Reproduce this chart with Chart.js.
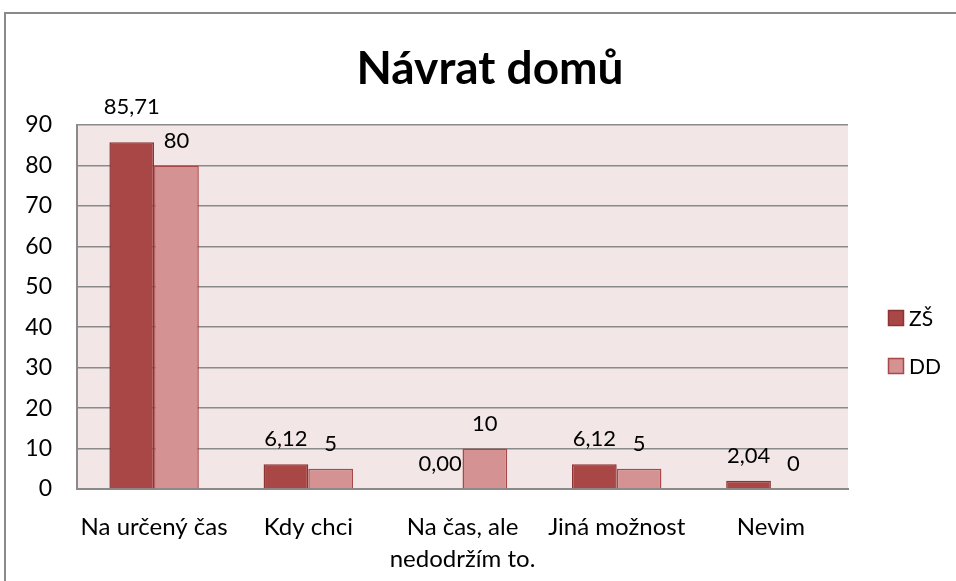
<!DOCTYPE html>
<html>
<head>
<meta charset="utf-8">
<script src="https://cdn.jsdelivr.net/npm/chart.js@4"></script>
<style>
  body { margin: 0; background: #fff; }
  #wrap { width: 956px; height: 581px; }
</style>
</head>
<body>
<div id="wrap"><canvas id="chart" width="956" height="581"></canvas></div>
<script>
// data
const categories = ['Na určený čas', 'Kdy chci', ['Na čas, ale', 'nedodržím to.'], 'Jiná možnost', 'Nevim']
const zsValues = [85.71, 6.12, 0.00, 6.12, 2.04]
const ddValues = [80, 5, 10, 5, 0]
const seriesNames = ['ZŠ', 'DD']
const yTicks = [0, 10, 20, 30, 40, 50, 60, 70, 80, 90]

const FONT = 'Lato, "Open Sans", sans-serif'

// frame, plot background, title, value labels and legend
const decor = {
  id: 'decor',
  beforeDraw(chart) {
    const ctx = chart.ctx
    const a = chart.chartArea
    ctx.save()
    ctx.strokeStyle = '#8a8a8a'
    ctx.lineWidth = 2
    ctx.strokeRect(5, 13, 1100, 1100)
    ctx.fillStyle = '#f2e6e6'
    ctx.fillRect(a.left, a.top, a.right - a.left, a.bottom - a.top)
    ctx.restore()
  },
  afterDraw(chart) {
    const ctx = chart.ctx
    const a = chart.chartArea
    ctx.save()
    // title
    ctx.fillStyle = '#000'
    ctx.font = 'bold 46px ' + FONT
    ctx.textAlign = 'center'
    ctx.textBaseline = 'alphabetic'
    ctx.fillText('Návrat domů', 490, 84)

    // value labels (pushed above the plot if they would cross its top line)
    ctx.font = '22px ' + FONT
    ctx.textBaseline = 'bottom'
    chart.data.datasets.forEach((ds, di) => {
      chart.getDatasetMeta(di).data.forEach((bar, i) => {
        const v = ds.data[i]
        const txt = di === 0 ? v.toFixed(2).replace('.', ',') : String(v)
        let y = bar.y - 14
        if (y - 22 < a.top) y = a.top - 7
        ctx.fillText(txt, bar.x, y)
      })
    })

    // legend
    ctx.font = '21px ' + FONT
    ctx.textAlign = 'left'
    ctx.textBaseline = 'middle'
    chart.data.datasets.forEach((ds, di) => {
      const y = 318 + di * 48
      ctx.fillStyle = ds.backgroundColor
      ctx.fillRect(888, y - 8, 16, 16)
      ctx.strokeStyle = ds.borderColor
      ctx.lineWidth = 1.5
      ctx.strokeRect(888.5, y - 7.5, 15, 15)
      ctx.fillStyle = '#000'
      ctx.fillText(ds.label, 909, y + 1)
    })
    ctx.restore()
  }
}

new Chart(document.getElementById('chart'), {
  type: 'bar',
  data: {
    labels: categories,
    datasets: [
      {
        label: seriesNames[0],
        data: zsValues,
        backgroundColor: '#a94646',
        borderColor: '#8c3434',
        borderWidth: 1.5,
        categoryPercentage: 0.58,
        barPercentage: 1
      },
      {
        label: seriesNames[1],
        data: ddValues,
        backgroundColor: '#d49292',
        borderColor: '#a84848',
        borderWidth: 1.5,
        categoryPercentage: 0.58,
        barPercentage: 1
      }
    ]
  },
  options: {
    responsive: false,
    animation: false,
    layout: { padding: { top: 125, right: 108, left: 0, bottom: 0 } },
    plugins: {
      legend: { display: false },
      title: { display: false },
      tooltip: { enabled: false }
    },
    scales: {
      x: {
        grid: { display: false, drawTicks: false },
        border: { color: '#8a8a8a', width: 2 },
        ticks: {
          color: '#000',
          font: { family: FONT, size: 24, lineHeight: 1.3 },
          padding: 23,
          maxRotation: 0,
          autoSkip: false
        },
        afterFit(s) { s.height = 92 }
      },
      y: {
        min: 0,
        max: 90,
        afterBuildTicks(s) { s.ticks = yTicks.map(v => ({ value: v })) },
        grid: { color: '#8a8a8a', lineWidth: 1.5, drawTicks: false },
        border: { color: '#8a8a8a', width: 2 },
        ticks: {
          color: '#000',
          font: { family: FONT, size: 23 },
          padding: 25
        },
        afterFit(s) { s.width = 77 }
      }
    }
  },
  plugins: [decor]
})
</script>
</body>
</html>
